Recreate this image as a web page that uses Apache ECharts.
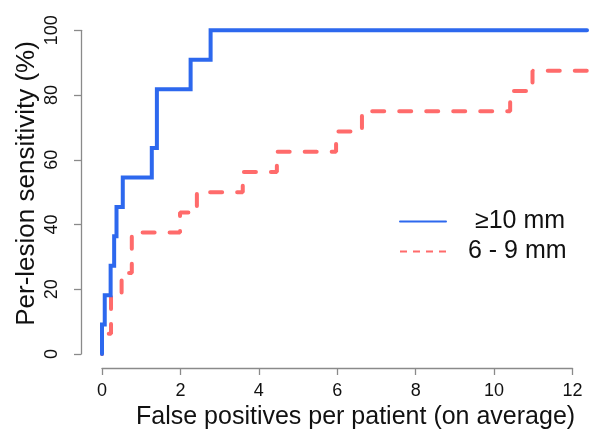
<!DOCTYPE html>
<html>
<head>
<meta charset="utf-8">
<script src="https://cdn.jsdelivr.net/npm/echarts@6/dist/echarts.min.js"></script>
<style>
html,body{margin:0;padding:0;background:#fff;}
#chart{width:604px;height:444px;}
</style>
</head>
<body>
<div id="chart"></div>
<script>
// Data
var seriesNames = [' \u226510 mm', '6 - 9 mm'];
var largeX = [0, 0, 0.07, 0.22, 0.31, 0.37, 0.53, 1.27, 1.40, 2.26, 2.77, 12.37];
var largeY = [0, 9.09, 18.18, 27.27, 36.36, 45.45, 54.55, 63.64, 81.82, 90.91, 100, 100];
var smallX = [0, 0, 0.23, 0.50, 0.76, 1.99, 2.42, 3.59, 4.46, 5.97, 6.63, 10.41, 10.98, 12.37];
var smallY = [0, 6.25, 18.75, 25, 37.5, 43.75, 50, 56.25, 62.5, 68.75, 75, 81.25, 87.5, 87.5];
var xTicks = [0, 2, 4, 6, 8, 10, 12];
var yTicks = [0, 20, 40, 60, 80, 100];
var xDataMax = 12.4; // plotting range extends a little past the last tick
var xTitle = 'False positives per patient (on average)';
var yTitle = 'Per-lesion sensitivity (%)';

function pairs(xs, ys) { return xs.map(function (x, i) { return [x, ys[i]]; }); }

var FONT = '"Liberation Sans", Arial, Helvetica, sans-serif';
var blue = '#2D68EE';
var red = '#FF6B6B';
var axisGray = '#8a8a8a';

var W = 604, gridLeft = 102, gridRight = 31.5, gridTop = 30.3, gridBottom = 90;
var xMaxTick = xTicks[xTicks.length - 1];
var unitPx = (W - gridLeft - gridRight) / (xMaxTick - xTicks[0]);
var dataRight = W - gridLeft - unitPx * (xDataMax - xTicks[0]);

var hiddenAxis = {
  show: false,
  axisLine: {show: false, onZero: false},
  axisTick: {show: false},
  axisLabel: {show: false},
  splitLine: {show: false}
};

var chart = echarts.init(document.getElementById('chart'), null, {renderer: 'canvas'});
chart.setOption({
  animation: false,
  backgroundColor: '#fff',
  grid: [
    {left: gridLeft, right: gridRight, top: gridTop, bottom: gridBottom, containLabel: false},
    {left: gridLeft, right: dataRight, top: gridTop, bottom: gridBottom, containLabel: false}
  ],
  xAxis: [{
    gridIndex: 0, type: 'value', min: xTicks[0], max: xMaxTick, interval: 2,
    offset: 14,
    axisLine: {show: true, onZero: false, lineStyle: {color: axisGray, width: 1.3}},
    axisTick: {show: true, length: 7, lineStyle: {color: axisGray, width: 1.3}},
    axisLabel: {color: '#111', fontSize: 18, fontFamily: FONT, margin: 14},
    splitLine: {show: false}
  }, Object.assign({gridIndex: 1, type: 'value', min: xTicks[0], max: xDataMax}, hiddenAxis)],
  yAxis: [{
    gridIndex: 0, type: 'value', min: yTicks[0], max: yTicks[yTicks.length - 1], interval: 20,
    offset: 21,
    axisLine: {show: true, onZero: false, lineStyle: {color: axisGray, width: 1.3}},
    axisTick: {show: true, length: 7, lineStyle: {color: axisGray, width: 1.3}},
    axisLabel: {color: '#111', fontSize: 18, fontFamily: FONT, margin: 20, rotate: 90},
    splitLine: {show: false}
  }, Object.assign({gridIndex: 1, type: 'value', min: yTicks[0], max: yTicks[yTicks.length - 1]}, hiddenAxis)],
  legend: {
    data: [
      {name: seriesNames[0], lineStyle: {width: 2, type: 'solid'}},
      {name: seriesNames[1], lineStyle: {width: 2, type: [7, 6], cap: 'butt'}}
    ],
    orient: 'vertical', left: 399, top: 206.5, padding: 0,
    itemWidth: 46, itemHeight: 14, itemGap: 0,
    itemStyle: {opacity: 0},
    textStyle: {fontSize: 25, fontFamily: FONT, color: '#111', lineHeight: 30, padding: [0, 0, 0, 17]},
    selectedMode: false
  },
  graphic: [
    {type: 'text', left: 136, top: 405, silent: true,
     style: {text: xTitle, font: '25px ' + FONT, fill: '#111'}},
    {type: 'text', x: 27, y: 183.5, rotation: Math.PI / 2, silent: true,
     style: {text: yTitle, font: '26px ' + FONT, fill: '#111', align: 'center', verticalAlign: 'middle'}}
  ],
  series: [
    {
      name: seriesNames[1], type: 'line', step: 'end', clip: false,
      xAxisIndex: 1, yAxisIndex: 1,
      data: pairs(smallX, smallY), symbol: 'none', z: 2,
      lineStyle: {color: red, width: 4, type: [12, 15], cap: 'round'},
      itemStyle: {color: red}
    },
    {
      name: seriesNames[0], type: 'line', step: 'end', clip: false,
      xAxisIndex: 1, yAxisIndex: 1,
      data: pairs(largeX, largeY), symbol: 'none', z: 3,
      lineStyle: {color: blue, width: 4, cap: 'round', join: 'miter'},
      itemStyle: {color: blue}
    }
  ]
});
</script>
</body>
</html>
